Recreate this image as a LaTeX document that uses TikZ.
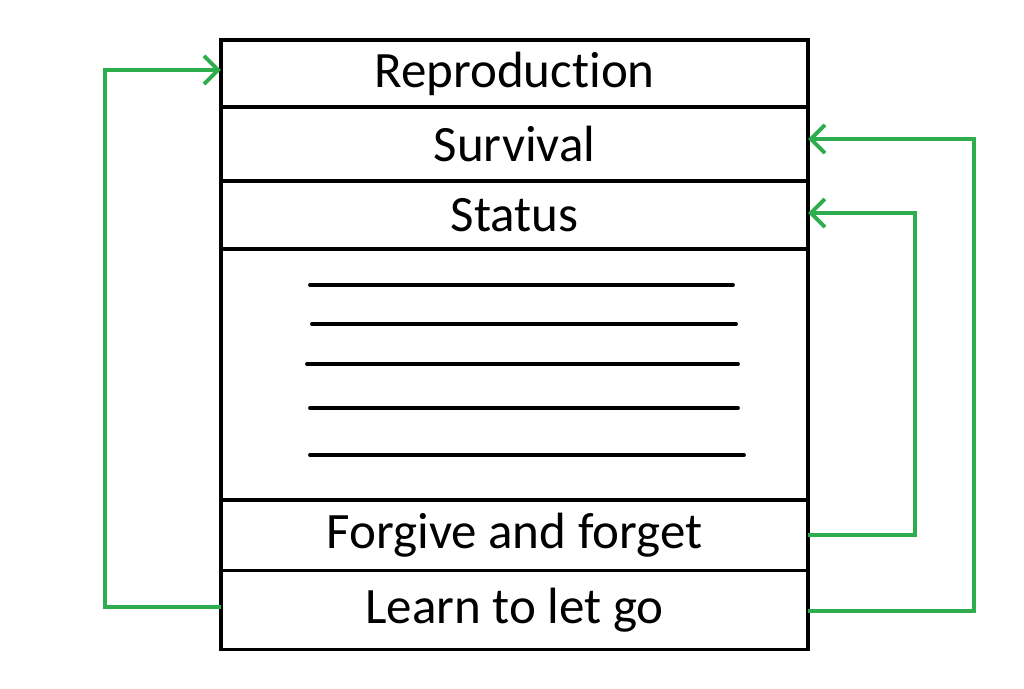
\documentclass[tikz,border=0pt]{standalone}
\usepackage{fontspec}
\setmainfont{Carlito}[Ligatures=NoCommon]
\usetikzlibrary{arrows.meta,positioning}
\definecolor{leaf}{HTML}{2EAD4F}

\begin{document}
\begin{tikzpicture}[x=0.01cm, y=-0.01cm, font=\fontsize{14.5}{17}\selectfont,
    row/.style={draw, line width=1pt, minimum width=5.87cm, inner sep=0pt, outer sep=0pt},
    rule/.style={line width=1.1pt, line cap=round},
    loop/.style={leaf, line width=1.1pt, -{Straight Barb[length=4pt,width=8pt]}}]
  \useasboundingbox (0,0) rectangle (1024,689);
  % stacked rows
  \node[row, minimum height=0.67cm] (rep) at (514.5,73.5) {Reproduction};
  \node[row, minimum height=0.74cm, below=0pt of rep] (surv) {Survival};
  \node[row, minimum height=0.68cm, below=0pt of surv] (stat) {Status};
  \node[row, minimum height=2.51cm, below=0pt of stat] (blank) {};
  \node[row, minimum height=0.70cm, below=0pt of blank] (forg) {Forgive and forget};
  \node[row, minimum height=0.79cm, below=0pt of forg] (learn) {Learn to let go};
  % ruled lines
  \draw[rule] (310,285) -- (733,285);
  \draw[rule] (312,324) -- (736,324);
  \draw[rule] (307,364) -- (738,364);
  \draw[rule] (310,408) -- (738,408);
  \draw[rule] (310,455) -- (744,455);
  % feedback arrows
  \draw[loop] ([yshift=0.03cm]learn.west) -- ++(-116,0) |- ([yshift=0.035cm]rep.west);
  \draw[loop] (forg.east) -- ++(107,0) |- ([yshift=0.02cm]stat.east);
  \draw[loop] ([yshift=-0.015cm]learn.east) -- ++(166,0) |- ([yshift=0.05cm]surv.east);
\end{tikzpicture}
\end{document}
